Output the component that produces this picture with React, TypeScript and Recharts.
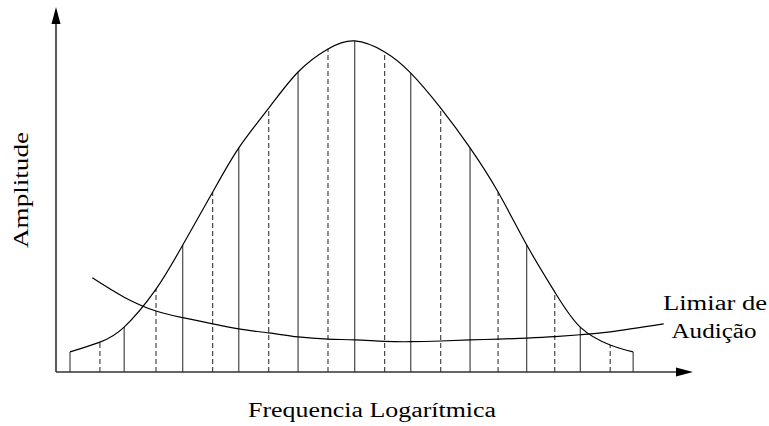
import { ComposedChart, Line, XAxis, YAxis, ReferenceLine, Customized } from 'recharts';

// band edges along the log-frequency axis (0..100) and curve height at each edge
const bandPositions = [2.2, 6.9, 10.7, 15.7, 19.9, 24.6, 28.7, 33.4, 38.0, 42.7, 46.9, 51.6, 55.7, 60.4, 65.0, 69.4, 73.9, 78.3, 82.3, 87.0, 90.6];
const spectrumAmplitude = [5.5, 8.2, 12.3, 22.7, 34.8, 49.3, 61.4, 72.3, 82.2, 88.5, 90.7, 87.7, 81.9, 72.3, 61.4, 49.3, 34.8, 21.9, 12.3, 7.4, 5.5];

// hearing threshold curve
const thresholdPositions = [5.7, 10.7, 15.7, 19.9, 24.6, 28.7, 33.4, 38.0, 42.7, 46.9, 51.6, 55.7, 60.4, 65.0, 69.4, 73.9, 78.3, 82.3, 87.0, 95.4];
const thresholdAmplitude = [25.8, 20.5, 16.7, 14.9, 13.2, 11.8, 10.7, 9.6, 9.0, 8.8, 8.4, 8.3, 8.5, 8.8, 9.0, 9.3, 9.7, 10.2, 11.0, 13.2];

const spectrum = bandPositions.map((x, i) => ({ x, y: spectrumAmplitude[i] }));
const threshold = thresholdPositions.map((x, i) => ({ x, y: thresholdAmplitude[i] }));

const textStyle = { fontFamily: "'Liberation Serif', serif", fontWeight: 400 };

function ArrowLine(props: any) {
  const { x1, y1, x2, y2 } = props;
  const dx = x2 - x1;
  const dy = y2 - y1;
  const len = Math.sqrt(dx * dx + dy * dy) || 1;
  const ux = dx / len;
  const uy = dy / len;
  const head = 17;
  const half = 4.5;
  const bx = x2 - ux * head;
  const by = y2 - uy * head;
  const pts = [
    [x2, y2],
    [bx - uy * half, by + ux * half],
    [bx + uy * half, by - ux * half],
  ]
    .map((p) => p.join(','))
    .join(' ');
  return (
    <g>
      <line x1={x1} y1={y1} x2={bx} y2={by} stroke="#333" strokeWidth={1.6} />
      <polygon points={pts} fill="#000" />
    </g>
  );
}

function Labels() {
  return (
    <g fill="#000">
      <text
        x={28}
        y={190}
        fontSize={20}
        style={textStyle}
        textAnchor="middle"
        textLength={116}
        lengthAdjust="spacingAndGlyphs"
        transform="rotate(-90, 28, 190)"
      >
        Amplitude
      </text>
      <text x={372} y={417} fontSize={20} style={textStyle} textAnchor="middle" textLength={248} lengthAdjust="spacingAndGlyphs">
        Frequencia Logarítmica
      </text>
      <text x={715} y={310} fontSize={20} style={textStyle} textAnchor="middle" textLength={104} lengthAdjust="spacingAndGlyphs">
        Limiar de
      </text>
      <text x={714} y={338} fontSize={20} style={textStyle} textAnchor="middle" textLength={85} lengthAdjust="spacingAndGlyphs">
        Audição
      </text>
    </g>
  );
}

export default function App() {
  return (
    <div style={{ position: 'absolute', left: 0, top: 0, background: '#fff' }}>
      <ComposedChart width={769} height={426} margin={{ top: 7, right: 76, bottom: 54, left: 56 }}>
        <XAxis type="number" dataKey="x" domain={[0, 100]} allowDataOverflow hide />
        <YAxis type="number" dataKey="y" domain={[0, 100]} allowDataOverflow hide />
        {bandPositions.map((x, i) => (
          <ReferenceLine
            key={x}
            segment={[
              { x, y: 0 },
              { x, y: spectrumAmplitude[i] },
            ]}
            stroke="#222"
            strokeWidth={1}
            strokeDasharray={i % 2 === 1 ? '5 3' : undefined}
            ifOverflow="visible"
          />
        ))}
        <ReferenceLine
          segment={[
            { x: 0, y: 0 },
            { x: 100, y: 0 },
          ]}
          shape={ArrowLine}
          ifOverflow="visible"
        />
        <ReferenceLine
          segment={[
            { x: 0, y: 0 },
            { x: 0, y: 100 },
          ]}
          shape={ArrowLine}
          ifOverflow="visible"
        />
        <Line
          data={spectrum}
          dataKey="y"
          type="natural"
          stroke="#000"
          strokeWidth={1.2}
          dot={false}
          activeDot={false}
          isAnimationActive={false}
        />
        <Line
          data={threshold}
          dataKey="y"
          type="natural"
          stroke="#000"
          strokeWidth={1.2}
          dot={false}
          activeDot={false}
          isAnimationActive={false}
        />
        <Customized component={<Labels />} />
      </ComposedChart>
    </div>
  );
}
